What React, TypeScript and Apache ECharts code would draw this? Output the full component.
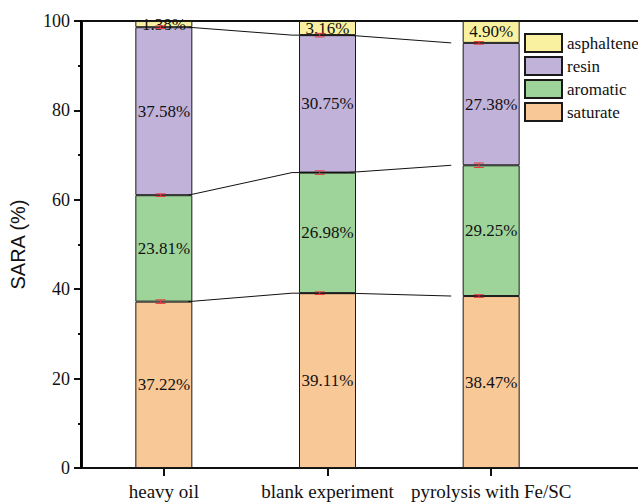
import React, { useEffect, useRef } from "react";
import * as echarts from "echarts";

const categories = ["heavy oil", "blank experiment", "pyrolysis with Fe/SC"];
const saturate = [37.22, 39.11, 38.47];
const aromatic = [23.81, 26.98, 29.25];
const resin = [37.58, 30.75, 27.38];
const asphaltene = [1.38, 3.16, 4.9];
const errSaturate = [0.4, 0.3, 0.3];
const errAromatic = [0.3, 0.4, 0.5];
const errResin = [0.3, 0.4, 0.3];
const yTicks = [0, 20, 40, 60, 80, 100];

const SERIF = "Liberation Serif";
const BAR_PX = 57;
const BAND_PX = 164;
const GRID_LEFT = 81;
const GRID_TOP = 21;
const GRID_H = 447;
const X_MIN = 0.5;
const X_MAX = 4;

export default function App() {
  const ref = useRef<HTMLDivElement>(null);
  useEffect(() => {
    if (!ref.current) return;
    const chart = echarts.init(ref.current, null, { renderer: "svg" });
    const xs = categories.map((_, i) => i + 1);
    const cumSat = saturate.slice();
    const cumAro = saturate.map((v, i) => v + aromatic[i]);
    const cumRes = cumAro.map((v, i) => v + resin[i]);
    const h = BAR_PX / 2 / BAND_PX;
    const connector = (cum: number[]) => {
      const pts: number[][] = [];
      cum.forEach((v, i) => {
        if (i > 0) pts.push([xs[i] - h, v]);
        if (i < cum.length - 1) pts.push([xs[i] + h, v]);
      });
      return pts;
    };
    const errData: number[][] = [];
    xs.forEach((x, i) => {
      errData.push([x, cumSat[i], errSaturate[i]]);
      errData.push([x, cumAro[i], errAromatic[i]]);
      errData.push([x, cumRes[i], errResin[i]]);
    });
    const barSeries = (name: string, vals: number[], color: string) => ({
      name,
      type: "bar",
      stack: "sara",
      barWidth: BAR_PX,
      xAxisIndex: 0,
      yAxisIndex: 0,
      data: vals,
      itemStyle: { color, borderColor: "#1a1a1a", borderWidth: 1 },
      label: {
        show: true,
        position: "inside",
        formatter: (p: any) => Number(p.value).toFixed(2) + "%",
        fontFamily: SERIF,
        fontSize: 17,
        color: "#111",
      },
      z: 2,
    });
    const lineSeries = (cum: number[]) => ({
      type: "line",
      xAxisIndex: 1,
      yAxisIndex: 1,
      data: connector(cum),
      symbol: "none",
      lineStyle: { color: "#111", width: 1 },
      z: 3,
      silent: true,
    });
    const axisLineStyle = { color: "#111", width: 2 };
    chart.setOption({
      animation: false,
      textStyle: { fontFamily: SERIF },
      grid: [
        { left: GRID_LEFT, top: GRID_TOP, width: 492, height: GRID_H },
        { left: GRID_LEFT, top: GRID_TOP, width: 574, height: GRID_H },
      ],
      graphic: [
        {
          type: "rect",
          shape: { x: GRID_LEFT - 1, y: GRID_TOP - 1, width: 2, height: GRID_H + 2 },
          style: { fill: "#000" },
          z: 10,
        },
      ],
      legend: {
        data: ["asphaltene", "resin", "aromatic", "saturate"],
        orient: "vertical",
        left: 524,
        top: 33,
        padding: 0,
        itemWidth: 37,
        itemHeight: 18,
        itemGap: 3,
        icon: "rect",
        textStyle: { fontFamily: SERIF, fontSize: 17, color: "#111" },
      },
      xAxis: [
        {
          type: "category",
          gridIndex: 0,
          data: categories,
          axisLine: { show: true, onZero: false, lineStyle: axisLineStyle },
          axisTick: { show: true, alignWithLabel: true, length: 8, lineStyle: axisLineStyle },
          axisLabel: { fontFamily: SERIF, fontSize: 19, color: "#111", margin: 14, interval: 0 },
        },
        {
          type: "value",
          gridIndex: 1,
          min: X_MIN,
          max: X_MAX,
          position: "bottom",
          splitLine: { show: false },
          axisLine: { show: true, onZero: false, lineStyle: axisLineStyle },
          axisTick: { show: false },
          axisLabel: { show: false },
        },
        {
          type: "value",
          gridIndex: 1,
          min: X_MIN,
          max: X_MAX,
          position: "top",
          splitLine: { show: false },
          axisLine: { show: true, onZero: false, lineStyle: axisLineStyle },
          axisTick: { show: false },
          axisLabel: { show: false },
        },
      ],
      yAxis: [
        {
          type: "value",
          gridIndex: 0,
          position: "left",
          min: yTicks[0],
          max: yTicks[yTicks.length - 1],
          interval: 20,
          name: "SARA (%)",
          nameLocation: "middle",
          nameGap: 54,
          nameTextStyle: { fontFamily: "Liberation Sans", fontSize: 20, color: "#111" },
          splitLine: { show: false },
          axisLine: { show: true, onZero: false, lineStyle: axisLineStyle },
          axisTick: { show: true, length: 8, lineStyle: axisLineStyle },
          minorTick: { show: true, splitNumber: 2, length: 4, lineStyle: axisLineStyle },
          axisLabel: { fontFamily: SERIF, fontSize: 18, color: "#111", margin: 12 },
        },
        {
          type: "value",
          gridIndex: 1,
          min: yTicks[0],
          max: yTicks[yTicks.length - 1],
          show: false,
        },
      ],
      series: [
        barSeries("saturate", saturate, "#F9C897"),
        barSeries("aromatic", aromatic, "#9ED49A"),
        barSeries("resin", resin, "#C1B2D9"),
        barSeries("asphaltene", asphaltene, "#F9F1A0"),
        lineSeries(cumSat),
        lineSeries(cumAro),
        lineSeries(cumRes),
        {
          type: "line",
          xAxisIndex: 1,
          yAxisIndex: 1,
          data: [
            [X_MIN, yTicks[0]],
            [X_MIN, yTicks[yTicks.length - 1]],
          ],
          symbol: "none",
          lineStyle: { color: "#111", width: 2 },
          z: 6,
          silent: true,
        },
        {
          type: "custom",
          xAxisIndex: 1,
          yAxisIndex: 1,
          data: errData,
          z: 5,
          silent: true,
          renderItem: (params: any, api: any) => {
            const x = api.value(0);
            const y = api.value(1);
            const e = api.value(2);
            const top = api.coord([x, y + e]);
            const bot = api.coord([x, y - e]);
            const cap = 5;
            const style = { stroke: "#E8393F", lineWidth: 1 };
            return {
              type: "group",
              children: [
                { type: "line", shape: { x1: top[0], y1: top[1], x2: bot[0], y2: bot[1] }, style },
                { type: "line", shape: { x1: top[0] - cap, y1: top[1], x2: top[0] + cap, y2: top[1] }, style },
                { type: "line", shape: { x1: bot[0] - cap, y1: bot[1], x2: bot[0] + cap, y2: bot[1] }, style },
              ],
            };
          },
        },
      ],
    });
    return () => chart.dispose();
  }, []);
  return (
    <div
      ref={ref}
      style={{ position: "fixed", left: 0, top: 0, width: 638, height: 502, background: "#fff" }}
    />
  );
}
